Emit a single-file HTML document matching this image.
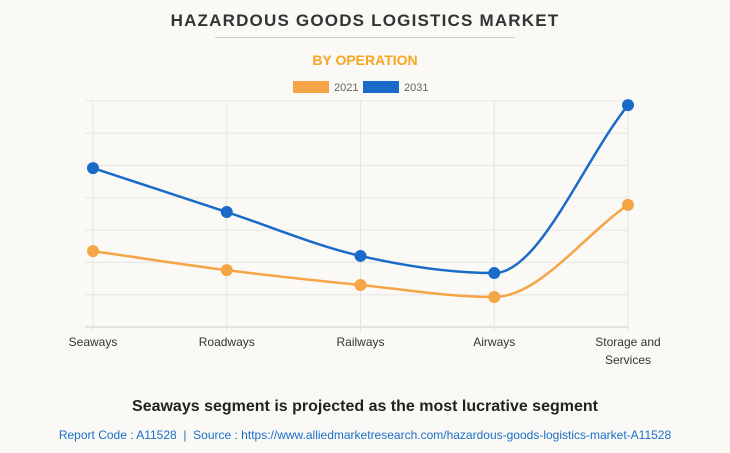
<!DOCTYPE html>
<html><head><meta charset="utf-8"><style>
body{margin:0;background:#fff}
#wrap{position:relative;width:730px;height:453px;background:#faf9f5;font-family:"Liberation Sans",Arial,sans-serif;overflow:hidden}
.t{position:absolute;left:0;width:730px;text-align:center;white-space:nowrap}
</style></head><body>
<div id="wrap">
<div class="t" style="top:11px;font-size:17px;font-weight:bold;color:#333;letter-spacing:1.2px">HAZARDOUS GOODS LOGISTICS MARKET</div>
<div style="position:absolute;left:215px;top:37px;width:300px;height:1px;background:#ccc"></div>
<div class="t" style="top:52px;font-size:14px;font-weight:bold;color:#f5a623">BY OPERATION</div>
<svg width="730" height="453" style="position:absolute;left:0;top:0">
<g id="legend"></g><g id="grid"></g><g id="series"></g><g id="labels"></g>
</svg>
<div class="t" style="top:398px;font-size:16px;font-weight:bold;color:#222">Seaways segment is projected as the most lucrative segment</div>
<div class="t" style="top:428px;font-size:12px;color:#1a6fc9">Report Code : A11528 &nbsp;|&nbsp; Source : https://www.alliedmarketresearch.com/hazardous-goods-logistics-market-A11528</div>
</div>
<script>
const categories=["Seaways","Roadways","Railways","Airways","Storage and|Services"];
const series2021=[2.35,1.76,1.3,0.93,3.78];
const series2031=[4.92,3.56,2.2,1.67,6.87];
const seriesNames=["2021","2031"];
const colors=["#f5a446","#1a6bc9"];
const yTicks=[0,1,2,3,4,5,6,7];
const NS="http://www.w3.org/2000/svg";
const x0=93,x1=628,y0=327,yStep=32.3;
const xs=i=>x0+(x1-x0)*i/(categories.length-1);
const ys=v=>y0-v*yStep;
function mk(t,a,p){const e=document.createElementNS(NS,t);for(const k in a)e.setAttribute(k,a[k]);p.appendChild(e);return e;}
const grid=document.getElementById('grid');
yTicks.forEach(v=>{
 const l=mk('line',{x1:85,x2:x1,y1:ys(v),y2:ys(v),stroke:v===0?'#ccc':'#e6e6e6','stroke-width':1},grid);
 
 
});
categories.forEach((c,i)=>{
 const l=mk('line',{x1:xs(i),x2:xs(i),y1:ys(7),y2:y0+4,stroke:'#e3e3e3','stroke-width':1},grid);
 
 
 const t=mk('text',{x:xs(i),y:346,'text-anchor':'middle','font-size':12,fill:'#333'},document.getElementById('labels'));
 
 
 c.split('|').forEach((p,j)=>{const s=mk('tspan',{x:xs(i),dy:j?18:0},t);s.textContent=p;});
});
function monotone(pts){
 const n=pts.length,d=[],m=[];
 for(let i=0;i<n-1;i++)d.push((pts[i+1][1]-pts[i][1])/(pts[i+1][0]-pts[i][0]));
 for(let i=0;i<n;i++){
  if(i===0)m.push(d[0]);else if(i===n-1)m.push(d[n-2]);
  else m.push(d[i-1]*d[i]<=0?0:(d[i-1]+d[i])/2);
 }
 let p=`M${pts[0][0]},${pts[0][1]}`;
 for(let i=0;i<n-1;i++){const h=(pts[i+1][0]-pts[i][0])/3;
  p+=` C${pts[i][0]+h},${pts[i][1]+m[i]*h} ${pts[i+1][0]-h},${pts[i+1][1]-m[i+1]*h} ${pts[i+1][0]},${pts[i+1][1]}`;}
 return p;
}
const sg=document.getElementById('series');
[series2021,series2031].forEach((arr,s)=>{
 const pts=arr.map((v,i)=>[xs(i),ys(v)]);
 const path=mk('path',{d:monotone(pts),fill:'none',stroke:colors[s],'stroke-width':2.5},sg);
 
 
 pts.forEach((p,i)=>{
  const c=mk('circle',{cx:p[0],cy:p[1],r:6,fill:colors[s]},sg);
  
  
 });
});
const lg=document.getElementById('legend');
const lx=[293,363];
seriesNames.forEach((n,s)=>{
 const r=mk('rect',{x:lx[s],y:81,width:36,height:12,fill:colors[s]},lg);
 
 
 const t=mk('text',{x:lx[s]+41,y:91,'font-size':11,fill:'#666'},lg);
 
 
 t.textContent=n;
});
</script>
</body></html>
